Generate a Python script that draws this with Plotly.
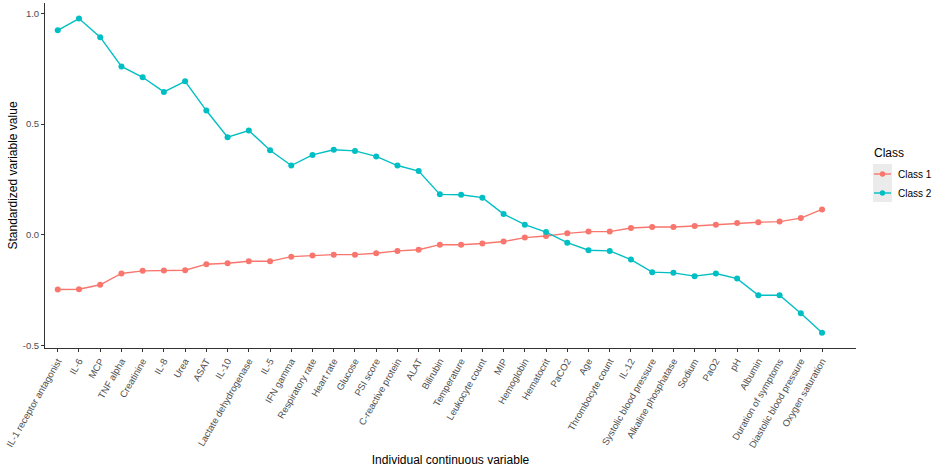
import plotly.graph_objects as go

# Variables ordered along the x axis
variables = [
    "IL-1 receptor antagonist", "IL-6", "MCP", "TNF alpha", "Creatinine", "IL-8",
    "Urea", "ASAT", "IL-10", "Lactate dehydrogenase", "IL-5", "IFN gamma",
    "Respiratory rate", "Heart rate", "Glucose", "PSI score", "C-reactive protein",
    "ALAT", "Bilirubin", "Temperature", "Leukocyte count", "MIP", "Hemoglobin",
    "Hematocrit", "PaCO2", "Age", "Thrombocyte count", "IL-12",
    "Systolic blood pressure", "Alkaline phosphatase", "Sodium", "PaO2", "pH",
    "Albumin", "Duration of symptoms", "Diastolic blood pressure", "Oxygen saturation",
]

class1 = [
    -0.246, -0.245, -0.225, -0.174, -0.162, -0.161, -0.159, -0.132, -0.128, -0.119,
    -0.119, -0.098, -0.093, -0.089, -0.089, -0.083, -0.072, -0.067, -0.044, -0.044,
    -0.039, -0.030, -0.012, -0.005, 0.007, 0.015, 0.015, 0.031, 0.036, 0.036,
    0.040, 0.046, 0.054, 0.057, 0.060, 0.076, 0.115,
]

class2 = [
    0.923, 0.976, 0.892, 0.760, 0.711, 0.645, 0.693, 0.561, 0.441, 0.471,
    0.382, 0.313, 0.361, 0.384, 0.379, 0.354, 0.313, 0.288, 0.183, 0.181,
    0.168, 0.094, 0.046, 0.013, -0.035, -0.069, -0.072, -0.111, -0.168, -0.171,
    -0.186, -0.174, -0.197, -0.272, -0.272, -0.353, -0.441,
]

series_names = ["Class 1", "Class 2"]
colors = ["#F8766D", "#00BFC4"]
y_ticks = [-0.5, 0.0, 0.5, 1.0]

W, H = 934, 467
L, R, T, B = 45, 856, 3, 348

font = "Liberation Sans, Arial, sans-serif"

fig = go.Figure()
for name, vals, col in zip(series_names, [class1, class2], colors):
    fig.add_trace(go.Scatter(
        x=list(range(len(variables))), y=vals, name=name, mode="lines+markers",
        line=dict(color=col, width=1.4), marker=dict(color=col, size=6),
        showlegend=False,
    ))


def px(x):
    return (x - L) / (R - L)


def py(y):
    return (B - y) / (B - T)


# Legend drawn in paper coordinates
shapes = [dict(type="rect", xref="paper", yref="paper",
               x0=px(873), x1=px(892), y0=py(202), y1=py(164),
               fillcolor="#EBEBEB", line=dict(width=0), layer="below")]
annotations = [dict(text="Class", xref="paper", yref="paper", x=px(872), y=py(153),
                    xanchor="left", yanchor="middle", showarrow=False,
                    font=dict(family=font, size=12, color="#000000"))]
for i, (name, col) in enumerate(zip(series_names, colors)):
    yc = 174 + i * 19
    shapes.append(dict(type="line", xref="paper", yref="paper",
                       x0=px(874), x1=px(891), y0=py(yc), y1=py(yc),
                       line=dict(color=col, width=1.4)))
    shapes.append(dict(type="circle", xref="paper", yref="paper",
                       x0=px(879.8), x1=px(885.2), y0=py(yc + 2.7), y1=py(yc - 2.7),
                       fillcolor=col, line=dict(width=0)))
    annotations.append(dict(text=name, xref="paper", yref="paper", x=px(896), y=py(yc),
                            xanchor="left", yanchor="middle", showarrow=False,
                            font=dict(family=font, size=10, color="#000000")))

fig.update_layout(
    width=W, height=H,
    margin=dict(l=L, r=W - R, t=T, b=H - B),
    plot_bgcolor="white", paper_bgcolor="white",
    font=dict(family=font),
    shapes=shapes, annotations=annotations,
    xaxis=dict(
        tickmode="array", tickvals=list(range(len(variables))), ticktext=variables,
        range=[-0.6, 37.6], tickangle=-60, ticks="outside", ticklen=3,
        tickcolor="#333333", showline=True, linecolor="#333333", linewidth=1,
        showgrid=False, zeroline=False,
        tickfont=dict(family=font, size=9.5, color="#4D4D4D"),
        title=dict(text="Individual continuous variable",
                   font=dict(family=font, size=12, color="#000000"), standoff=6),
    ),
    yaxis=dict(
        tickvals=y_ticks, ticktext=[f"{v:.1f}" for v in y_ticks],
        range=[-0.51, 1.046], ticks="outside", ticklen=3,
        tickcolor="#333333", showline=True, linecolor="#333333", linewidth=1,
        showgrid=False, zeroline=False,
        tickfont=dict(family=font, size=9.5, color="#4D4D4D"),
        title=dict(text="Standardized variable value",
                   font=dict(family=font, size=12, color="#000000"), standoff=2),
    ),
)

fig.write_html("out.html")
